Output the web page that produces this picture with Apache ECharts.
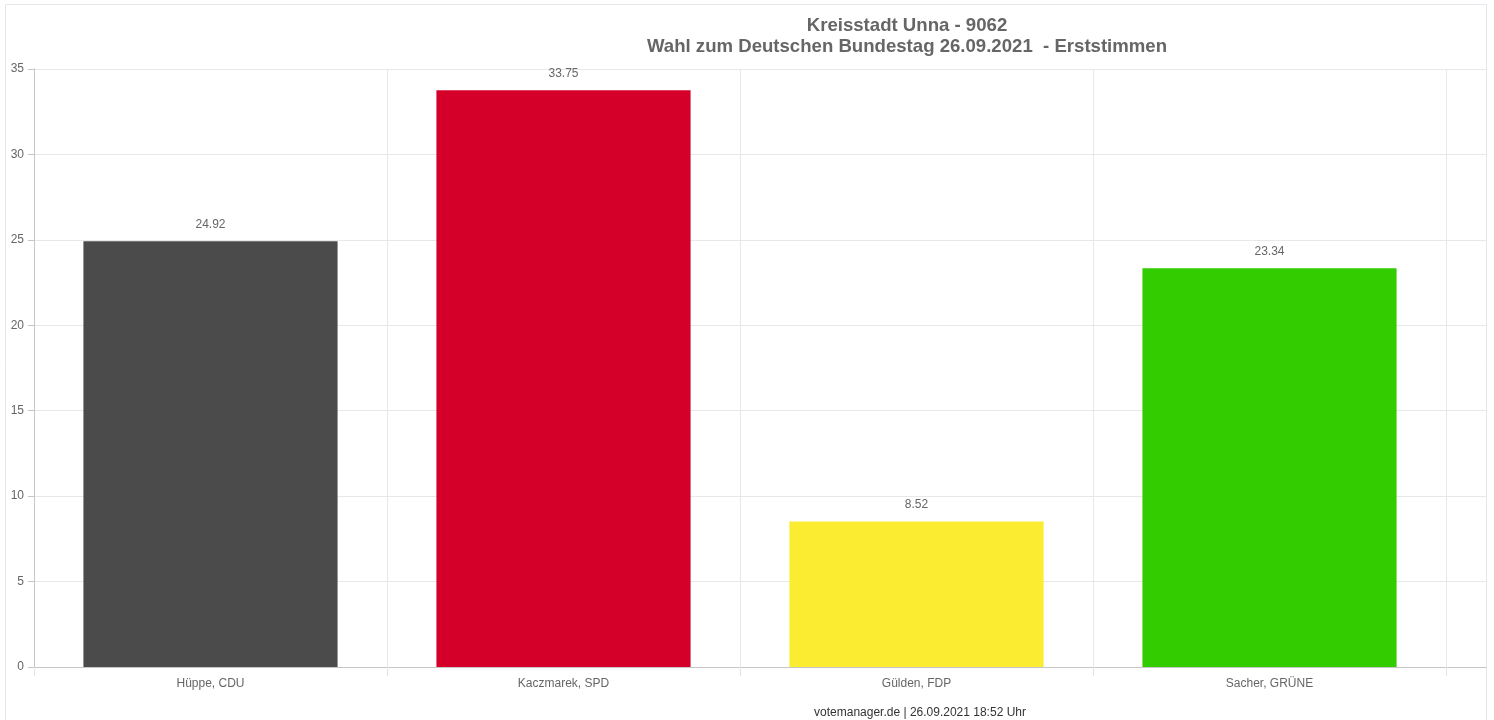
<!DOCTYPE html>
<html><head><meta charset="utf-8">
<script src="https://cdn.jsdelivr.net/npm/echarts@6/dist/echarts.min.js"></script>
<style>html,body{margin:0;padding:0;background:#fff}#c{width:1494px;height:720px}</style>
</head><body><div id="c"></div>
<script>
const categories = ['Hüppe, CDU', 'Kaczmarek, SPD', 'Gülden, FDP', 'Sacher, GRÜNE'];
const values = [24.92, 33.75, 8.52, 23.34];
const barColors = ['#4b4b4b', '#d50029', '#fbec31', '#33cc00'];
const titleLines = ['Kreisstadt Unna - 9062', 'Wahl zum Deutschen Bundestag 26.09.2021  - Erststimmen'];
const footer = 'votemanager.de | 26.09.2021 18:52 Uhr';
const yMin = 0, yMax = 35, yStep = 5;

const chart = echarts.init(document.getElementById('c'));
const font = 'Liberation Sans, Arial, sans-serif';
chart.setOption({
  animation: false,
  backgroundColor: '#fff',
  graphic: [{type: 'rect', shape: {x: 5.5, y: 4.5, width: 1481, height: 720}, style: {fill: 'none', stroke: '#e3e6ea', lineWidth: 1}, silent: true}],
  title: [
    {text: titleLines.join('\n'), left: 902, top: 10, textAlign: 'center',
     textStyle: {fontFamily: font, fontSize: 18.6, fontWeight: 'bold', color: '#666', lineHeight: 21}},
    {text: footer, left: 915, top: 702, textAlign: 'center',
     textStyle: {fontFamily: font, fontSize: 12, fontWeight: 'normal', color: '#333'}}
  ],
  grid: [
    {left: 34, right: 8, top: 69, bottom: 53},
    {left: 34, right: 48, top: 69, bottom: 53}
  ],
  xAxis: [
    {gridIndex: 0, type: 'category', data: [''], axisLine: {show: true, lineStyle: {color: '#c6c6c6'}},
     axisTick: {show: false}, axisLabel: {show: false}, splitLine: {show: false}},
    {gridIndex: 1, type: 'category', data: categories, boundaryGap: true,
     axisLine: {show: false},
     axisTick: {show: true, length: 9, lineStyle: {color: '#e3e3e3'}},
     axisLabel: {fontFamily: font, fontSize: 12, color: '#666', margin: 11},
     splitLine: {show: true, lineStyle: {color: '#e8e8e8'}}}
  ],
  yAxis: [
    {gridIndex: 0, type: 'value', min: yMin, max: yMax, interval: yStep,
     axisLine: {show: true, lineStyle: {color: '#c6c6c6'}},
     axisTick: {show: true, length: 6, lineStyle: {color: '#c6c6c6'}},
     axisLabel: {fontFamily: font, fontSize: 12, color: '#666', margin: 10},
     splitLine: {show: true, lineStyle: {color: '#e8e8e8'}}},
    {gridIndex: 1, type: 'value', min: yMin, max: yMax, interval: yStep, show: false}
  ],
  series: [{
    type: 'bar', xAxisIndex: 1, yAxisIndex: 1, barWidth: '72%',
    data: values.map((v, i) => ({value: v, itemStyle: {color: barColors[i]}})),
    label: {show: true, position: 'top', distance: 11, fontFamily: font, fontSize: 12, color: '#666'}
  }]
});
</script></body></html>
